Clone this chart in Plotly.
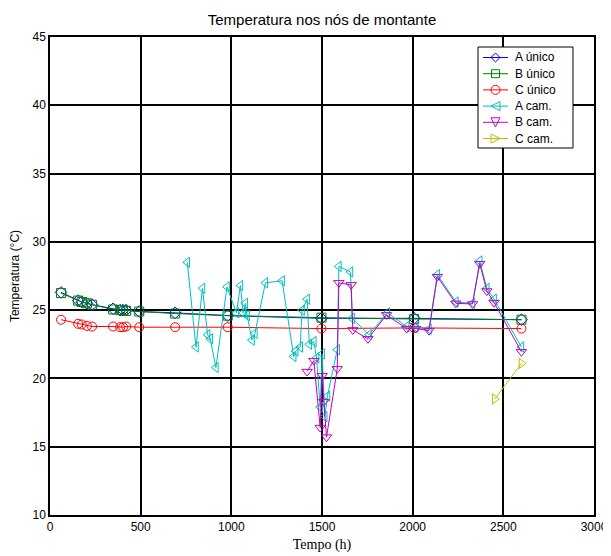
import plotly.graph_objects as go

# ---- data ----
t_unico = [61, 155, 175, 204, 232, 348, 387, 403, 420, 492, 690, 980, 1497, 2008, 2600]
A_unico = [26.3, 25.7, 25.6, 25.5, 25.4, 25.1, 25.0, 25.0, 25.0, 24.9, 24.8, 24.6, 24.4, 24.4, 24.3]
B_unico = [26.25, 25.7, 25.6, 25.5, 25.4, 25.05, 25.0, 25.0, 24.95, 24.9, 24.75, 24.6, 24.45, 24.35, 24.3]
C_unico = [24.3, 24.0, 23.95, 23.85, 23.8, 23.8, 23.75, 23.75, 23.8, 23.75, 23.75, 23.75, 23.65, 23.7, 23.65]

t_A_cam = [757, 805, 841, 869, 884, 915, 976, 1028, 1050, 1065, 1077, 1087, 1114, 1130,
           1188, 1280, 1344, 1355, 1380, 1390, 1418, 1430, 1455, 1470, 1490, 1501, 1515,
           1530, 1584, 1593, 1657, 1666, 1759, 1860, 1967, 2017, 2090, 2136, 2238, 2330,
           2370, 2409, 2449, 2600]
A_cam = [28.5, 22.3, 26.6, 23.2, 22.9, 20.8, 26.7, 24.8, 26.8, 24.8, 25.5, 24.6, 22.8, 23.3,
         27.0, 27.15, 21.6, 22.0, 22.3, 25.0, 25.8, 22.5, 22.7, 21.5, 17.9, 21.8, 17.2,
         18.7, 22.1, 28.2, 27.8, 24.4, 23.2, 24.8, 23.8, 23.75, 23.6, 27.6, 25.6, 25.5,
         28.6, 26.6, 25.8, 22.3]

t_B_cam = [1418, 1455, 1490, 1501, 1510, 1525, 1584, 1593, 1661, 1670, 1753, 1856, 1967,
           2017, 2090, 2136, 2238, 2330, 2370, 2409, 2449, 2600]
B_cam = [20.5, 21.3, 16.4, 20.2, 18.3, 15.7, 20.7, 27.0, 26.85, 23.55, 22.9, 24.65, 23.65,
         23.65, 23.5, 27.45, 25.5, 25.45, 28.4, 26.4, 25.55, 21.95]

t_C_cam = [2453, 2600]
C_cam = [18.5, 21.1]

series_names = ["A único", "B único", "C único", "A cam.", "B cam.", "C cam."]

x_ticks = [0, 500, 1000, 1500, 2000, 2500, 3000]
y_ticks = [10, 15, 20, 25, 30, 35, 40, 45]

# ---- styles ----
colors = ["#0000ff", "#008000", "#ff0000", "#00bfbf", "#bf00bf", "#bfbf00"]
symbols = ["diamond-open", "square-open", "circle-open",
           "triangle-left-open", "triangle-down-open", "triangle-right-open"]
xs_all = [t_unico, t_unico, t_unico, t_A_cam, t_B_cam, t_C_cam]
ys_all = [A_unico, B_unico, C_unico, A_cam, B_cam, C_cam]

# figure geometry (page body has an 8px margin, so figure is 8px smaller)
W, H = 603, 548
PL, PR, PT, PB = 42, 586, 29, 507


def px(fx):
    return (fx - PL) / (PR - PL)


def py(fy):
    return (PB - fy) / (PB - PT)


fig = go.Figure()
for name, xs, ys, col, sym in zip(series_names, xs_all, ys_all, colors, symbols):
    fig.add_trace(go.Scatter(
        x=xs, y=ys, name=name, mode="lines+markers", showlegend=False,
        line=dict(color=col, width=1),
        marker=dict(symbol=sym, size=9, color=col, line=dict(color=col, width=1)),
    ))

# ---- custom legend (box, sample lines, markers, labels) ----
shapes = []
annotations = []
LX0, LX1, LY0, LY1 = 470, 565, 39, 140
shapes.append(dict(type="rect", xref="paper", yref="paper", layer="above",
                   x0=px(LX0), x1=px(LX1), y0=py(LY1), y1=py(LY0),
                   line=dict(color="black", width=1), fillcolor="white"))
row0, drow = 49.5, 16.2
lx0, lx1, mcx, tx = 475, 500, 487.5, 505
s = 4.5


def path_of(pts):
    d = "M " + " L ".join(f"{px(a):.5f},{py(b):.5f}" for a, b in pts) + " Z"
    return d


for i, (name, col, sym) in enumerate(zip(series_names, colors, symbols)):
    cy = row0 + drow * i
    shapes.append(dict(type="line", xref="paper", yref="paper", layer="above",
                       x0=px(lx0), x1=px(lx1), y0=py(cy), y1=py(cy),
                       line=dict(color=col, width=1)))
    mline = dict(color=col, width=1)
    if sym.startswith("square"):
        shapes.append(dict(type="rect", xref="paper", yref="paper", layer="above",
                           x0=px(mcx - 4), x1=px(mcx + 4), y0=py(cy + 4), y1=py(cy - 4),
                           line=mline, fillcolor="rgba(0,0,0,0)"))
    elif sym.startswith("circle"):
        shapes.append(dict(type="circle", xref="paper", yref="paper", layer="above",
                           x0=px(mcx - s), x1=px(mcx + s), y0=py(cy + s), y1=py(cy - s),
                           line=mline, fillcolor="rgba(0,0,0,0)"))
    else:
        if sym.startswith("diamond"):
            pts = [(mcx - s, cy), (mcx, cy - s), (mcx + s, cy), (mcx, cy + s)]
        elif sym.startswith("triangle-left"):
            pts = [(mcx - s, cy), (mcx + s, cy - s), (mcx + s, cy + s)]
        elif sym.startswith("triangle-down"):
            pts = [(mcx - s, cy - s), (mcx + s, cy - s), (mcx, cy + s)]
        else:
            pts = [(mcx + s, cy), (mcx - s, cy - s), (mcx - s, cy + s)]
        shapes.append(dict(type="path", xref="paper", yref="paper", layer="above",
                           path=path_of(pts), line=mline, fillcolor="rgba(0,0,0,0)"))
    annotations.append(dict(text=name, xref="paper", yref="paper", x=px(tx), y=py(cy),
                            xanchor="left", yanchor="middle", showarrow=False,
                            font=dict(family="Liberation Sans, Arial", size=12, color="black")))

axis_common = dict(
    showgrid=True, gridcolor="black", gridwidth=2,
    zeroline=False, showline=True, linecolor="black", linewidth=1.5, mirror=True,
    ticks="inside", ticklen=4, tickcolor="black", automargin=False,
    tickfont=dict(family="Liberation Sans, Arial", size=12, color="black"),
)

fig.update_layout(
    width=W, height=H,
    margin=dict(l=PL, r=W - PR, t=PT, b=H - PB),
    paper_bgcolor="white", plot_bgcolor="white",
    title=dict(text="Temperatura nos nós de montante", xref="paper", x=0.5, xanchor="center",
               y=1 - 12 / H, yanchor="middle",
               font=dict(family="Liberation Sans, Arial", size=15, color="black")),
    xaxis=dict(range=[0, 3000], tickvals=x_ticks,
               title=dict(text="Tempo (h)", standoff=6,
                          font=dict(family="Liberation Serif, Times New Roman", size=14, color="black")),
               **axis_common),
    yaxis=dict(range=[10, 45], tickvals=y_ticks,
               title=dict(text="Temperatura (°C)", standoff=12,
                          font=dict(family="Liberation Sans, Arial", size=12, color="black")),
               **axis_common),
    shapes=shapes,
    annotations=annotations,
    showlegend=False,
)

fig.write_html("out.html")
